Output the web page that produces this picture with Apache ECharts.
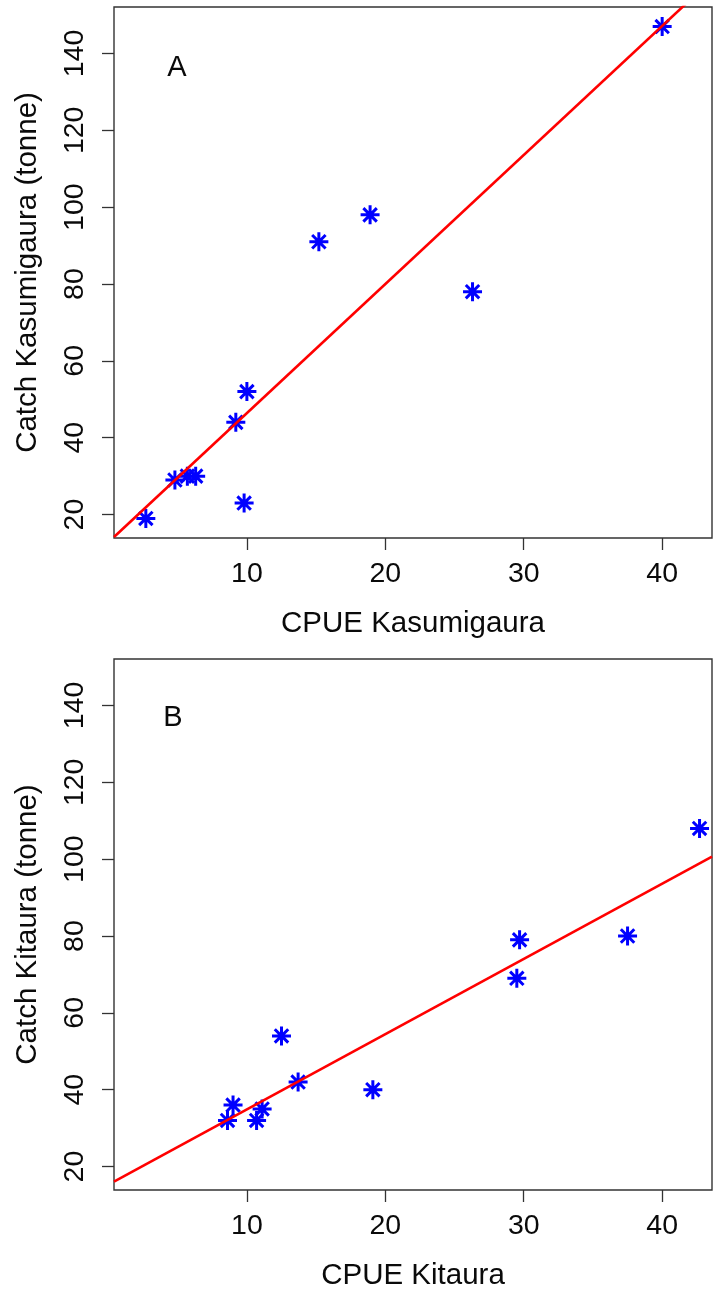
<!DOCTYPE html>
<html>
<head>
<meta charset="utf-8">
<title>Catch vs CPUE</title>
<script src="https://cdn.jsdelivr.net/npm/echarts@6/dist/echarts.min.js"></script>
<style>
  html, body { margin: 0; padding: 0; background: #fff; }
  #chart { width: 717px; height: 1290px; }
</style>
</head>
<body>
<div id="chart"></div>
<script>
// Panel A: Kasumigaura
const cpueKasumigaura  = [2.7, 4.8, 5.7, 6.3, 9.2, 10.0, 9.8, 26.3, 15.2, 18.9, 40.0];
const catchKasumigaura = [19, 29, 30, 30, 44, 52, 23, 78, 91, 98, 147];

// Panel B: Kitaura
const cpueKitaura  = [29.7, 29.5, 37.5, 12.5, 13.7, 19.1, 9.0, 8.6, 10.7, 11.1, 42.7];
const catchKitaura = [79, 69, 80, 54, 42, 40, 36, 32, 32, 35, 108];

// Tick labels
const xTicks = [10, 20, 30, 40];
const yTicks = [20, 40, 60, 80, 100, 120, 140];

// Axis limits shared by both panels
const xLimits = [0.4, 43.6];
const yLimits = [13.9, 152.1];

const FONT = 'Liberation Sans, Arial, sans-serif';
const AXIS_COLOR = '#333';
const TEXT_COLOR = '#0a0a0a';

// Ordinary least squares fit y = a + b x
function ols(xs, ys) {
  const n = xs.length;
  const mx = xs.reduce((s, v) => s + v, 0) / n;
  const my = ys.reduce((s, v) => s + v, 0) / n;
  let sxy = 0, sxx = 0;
  for (let i = 0; i < n; i++) {
    sxy += (xs[i] - mx) * (ys[i] - my);
    sxx += (xs[i] - mx) * (xs[i] - mx);
  }
  const b = sxy / sxx;
  return { a: my - b * mx, b: b };
}

function fitLine(xs, ys) {
  const f = ols(xs, ys);
  return xLimits.map(x => [x, f.a + f.b * x]);
}

function zip(xs, ys) { return xs.map((x, i) => [x, ys[i]]); }

// Eight-armed asterisk marker
const asterisk = 'path://M0,-1L0,1M-1,0L1,0M-0.7071,-0.7071L0.7071,0.7071M-0.7071,0.7071L0.7071,-0.7071';

function makeX(gridIndex, name) {
  return {
    type: 'value', gridIndex: gridIndex,
    min: xLimits[0], max: xLimits[1],
    name: name, nameLocation: 'middle', nameGap: 71,
    nameTextStyle: { fontFamily: FONT, fontSize: 29.5, color: TEXT_COLOR },
    axisLine: { show: false },
    axisTick: { show: true, inside: false, length: 12, customValues: xTicks,
                lineStyle: { color: AXIS_COLOR, width: 1.3 } },
    axisLabel: { show: true, customValues: xTicks, margin: 22,
                 fontFamily: FONT, fontSize: 28.5, color: TEXT_COLOR },
    splitLine: { show: false }
  };
}

function makeY(gridIndex, name) {
  return {
    type: 'value', gridIndex: gridIndex,
    min: yLimits[0], max: yLimits[1],
    name: name, nameLocation: 'middle', nameGap: 71, nameRotate: 90,
    nameTextStyle: { fontFamily: FONT, fontSize: 29.5, color: TEXT_COLOR },
    axisLine: { show: false },
    axisTick: { show: true, inside: false, length: 12, customValues: yTicks,
                lineStyle: { color: AXIS_COLOR, width: 1.3 } },
    axisLabel: { show: true, customValues: yTicks, margin: 24, rotate: 90,
                 fontFamily: FONT, fontSize: 28.5, color: TEXT_COLOR },
    splitLine: { show: false }
  };
}

function pointSeries(idx, xs, ys) {
  return {
    type: 'scatter', xAxisIndex: idx, yAxisIndex: idx,
    data: zip(xs, ys),
    symbol: asterisk, symbolSize: 19,
    itemStyle: { color: 'rgba(0,0,0,0)', borderColor: '#0000ff', borderWidth: 3, opacity: 1 },
    emphasis: { disabled: true },
    z: 3
  };
}

function lineSeries(idx, xs, ys) {
  return {
    type: 'line', xAxisIndex: idx, yAxisIndex: idx,
    data: fitLine(xs, ys),
    showSymbol: false, symbol: 'none', clip: true,
    lineStyle: { color: '#ff0000', width: 2.6 },
    emphasis: { disabled: true },
    z: 4
  };
}

const chart = echarts.init(document.getElementById('chart'), null, { renderer: 'canvas' });

chart.setOption({
  animation: false,
  backgroundColor: '#ffffff',
  grid: [
    { left: 114, top: 7, width: 598, height: 531, show: true,
      borderColor: AXIS_COLOR, borderWidth: 1.4, backgroundColor: 'transparent',
      containLabel: false, outerBoundsMode: 'none' },
    { left: 114, top: 659, width: 598, height: 531, show: true,
      borderColor: AXIS_COLOR, borderWidth: 1.4, backgroundColor: 'transparent',
      containLabel: false, outerBoundsMode: 'none' }
  ],
  xAxis: [makeX(0, 'CPUE Kasumigaura'), makeX(1, 'CPUE Kitaura')],
  yAxis: [makeY(0, 'Catch Kasumigaura (tonne)'), makeY(1, 'Catch Kitaura (tonne)')],
  series: [
    pointSeries(0, cpueKasumigaura, catchKasumigaura),
    lineSeries(0, cpueKasumigaura, catchKasumigaura),
    pointSeries(1, cpueKitaura, catchKitaura),
    lineSeries(1, cpueKitaura, catchKitaura)
  ],
  graphic: [
    { type: 'text', x: 177, y: 68,
      style: { text: 'A', align: 'center', verticalAlign: 'middle',
               fontFamily: FONT, fontSize: 29, fill: TEXT_COLOR } },
    { type: 'text', x: 173, y: 718,
      style: { text: 'B', align: 'center', verticalAlign: 'middle',
               fontFamily: FONT, fontSize: 29, fill: TEXT_COLOR } }
  ]
});
</script>
</body>
</html>
